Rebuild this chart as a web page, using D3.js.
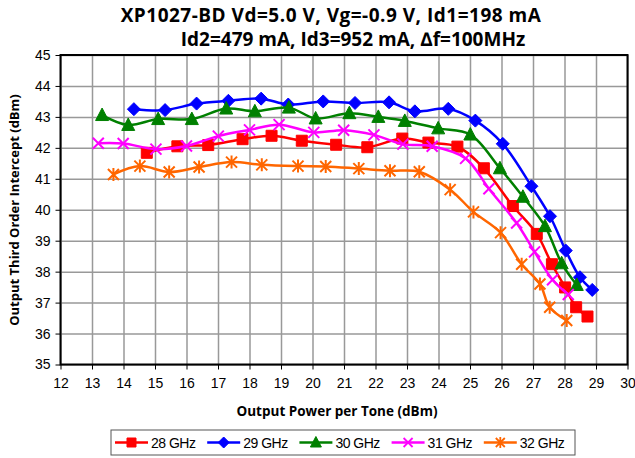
<!DOCTYPE html>
<html>
<head>
<meta charset="utf-8">
<script src="https://cdn.jsdelivr.net/npm/d3@7"></script>
<style>
  body { margin: 0; background: #fff; }
  svg { display: block; }
  .tick text { font-family: "Liberation Sans", Arial, sans-serif; font-size: 14px; fill: #000; }
</style>
</head>
<body>
<div id="chart"></div>
<script>
// chart data
var xTicks = [12, 13, 14, 15, 16, 17, 18, 19, 20, 21, 22, 23, 24, 25, 26, 27, 28, 29, 30];
var yTicks = [35, 36, 37, 38, 39, 40, 41, 42, 43, 44, 45];
var seriesNames = ['28 GHz', '29 GHz', '30 GHz', '31 GHz', '32 GHz'];

var pout28 = [14.74, 15.71, 16.69, 17.78, 18.7, 19.66, 20.75, 21.74, 22.85, 23.68, 24.6, 25.44, 26.36, 27.12, 27.6, 28.02, 28.37, 28.73];
var oip28  = [41.84, 42.05, 42.09, 42.28, 42.39, 42.23, 42.1, 42.02, 42.3, 42.17, 42.04, 41.34, 40.12, 39.22, 38.24, 37.49, 36.85, 36.55];

var pout29 = [14.33, 15.32, 16.32, 17.33, 18.37, 19.23, 20.34, 21.35, 22.43, 23.25, 24.31, 25.17, 26.04, 26.95, 27.54, 28.04, 28.49, 28.88];
var oip29  = [43.25, 43.22, 43.43, 43.52, 43.59, 43.4, 43.5, 43.45, 43.47, 43.18, 43.26, 42.88, 42.13, 40.76, 39.79, 38.68, 37.82, 37.41];

var pout30 = [13.32, 14.15, 15.1, 16.17, 17.26, 18.17, 19.25, 20.1, 21.17, 22.09, 22.93, 23.99, 25.01, 25.95, 26.68, 27.38, 27.91, 28.39];
var oip30  = [43.06, 42.74, 42.93, 42.93, 43.27, 43.18, 43.3, 42.95, 43.12, 43.0, 42.87, 42.63, 42.43, 41.34, 40.42, 39.47, 38.27, 37.57];

var pout31 = [13.2, 13.99, 15.03, 16.0, 17.01, 18.0, 18.94, 20.04, 20.99, 21.95, 22.87, 23.8, 24.86, 25.6, 26.48, 27.05, 27.62, 28.12];
var oip31  = [42.15, 42.14, 41.96, 42.06, 42.38, 42.58, 42.75, 42.5, 42.57, 42.42, 42.12, 42.05, 41.66, 40.68, 39.57, 38.64, 37.74, 37.26];

var pout32 = [13.68, 14.52, 15.45, 16.4, 17.43, 18.39, 19.54, 20.42, 21.47, 22.46, 23.39, 24.37, 25.11, 25.97, 26.64, 27.22, 27.53, 28.07];
var oip32  = [41.14, 41.41, 41.22, 41.38, 41.54, 41.45, 41.41, 41.4, 41.33, 41.26, 41.23, 40.65, 39.93, 39.26, 38.24, 37.6, 36.85, 36.42];

var WIDTH = 635, HEIGHT = 458;
var plot = {left: 60.5, right: 627.5, top: 55, bottom: 364.5};

var colors = ['#ff0000', '#0000ff', '#008000', '#ff00ff', '#ff6600'];
var shapes = ['square', 'diamond', 'triangle', 'x', 'star'];

var series = seriesNames.map(function(name, i) {
  var xs = [pout28, pout29, pout30, pout31, pout32][i];
  var ys = [oip28, oip29, oip30, oip31, oip32][i];
  return {
    name: name,
    color: colors[i],
    shape: shapes[i],
    points: xs.map(function(x, j) { return {x: x, y: ys[j]}; })
  };
});

var svg = d3.select('#chart').append('svg')
  .attr('width', WIDTH)
  .attr('height', HEIGHT);

var x = d3.scaleLinear().domain([12, 30]).range([plot.left, plot.right]);
var y = d3.scaleLinear().domain([35, 45]).range([plot.bottom, plot.top]);

// gridlines first so the frame sits on top
svg.append('g')
  .attr('transform', 'translate(0,' + plot.bottom + ')')
  .call(d3.axisBottom(x).tickValues(xTicks).tickSize(-(plot.bottom - plot.top)).tickFormat(''))
  .call(function(g) {
    g.select('.domain').remove();
    g.selectAll('line').attr('stroke', '#999').attr('stroke-width', 1.5);
  });
svg.append('g')
  .attr('transform', 'translate(' + plot.left + ',0)')
  .call(d3.axisLeft(y).tickValues(yTicks).tickSize(-(plot.right - plot.left)).tickFormat(''))
  .call(function(g) {
    g.select('.domain').remove();
    g.selectAll('line').attr('stroke', '#999').attr('stroke-width', 1.5);
  });

// frame
svg.append('rect')
  .attr('x', plot.left).attr('y', plot.top)
  .attr('width', plot.right - plot.left).attr('height', plot.bottom - plot.top)
  .attr('fill', 'none').attr('stroke', '#000').attr('stroke-width', 2);

// real axes with tick labels
var xAxis = svg.append('g')
  .attr('transform', 'translate(0,' + plot.bottom + ')')
  .call(d3.axisBottom(x).tickValues(xTicks).tickSize(5).tickPadding(9).tickFormat(d3.format('d')));
xAxis.select('.domain').remove();
xAxis.selectAll('line').attr('stroke', '#000').attr('stroke-width', 1);

var yAxis = svg.append('g')
  .attr('transform', 'translate(' + plot.left + ',0)')
  .call(d3.axisLeft(y).tickValues(yTicks).tickSize(5).tickPadding(5).tickFormat(d3.format('d')));
yAxis.select('.domain').remove();
yAxis.selectAll('line').attr('stroke', '#000').attr('stroke-width', 1);

// marker paths, centred on 0,0
function markerPath(shape, s) {
  var h = s / 2;
  if (shape === 'square') return 'M' + (-h) + ',' + (-h) + 'h' + s + 'v' + s + 'h' + (-s) + 'Z';
  if (shape === 'diamond') return 'M0,' + (-h - 1) + 'L' + (h + 1) + ',0L0,' + (h + 1) + 'L' + (-h - 1) + ',0Z';
  if (shape === 'triangle') return 'M0,' + (-h - 1.5) + 'L' + (h + 1) + ',' + (h) + 'L' + (-h - 1) + ',' + (h) + 'Z';
  if (shape === 'x') return 'M' + (-h) + ',' + (-h) + 'L' + h + ',' + h + 'M' + (-h) + ',' + h + 'L' + h + ',' + (-h);
  // asterisk: x plus vertical bar
  return 'M' + (-h) + ',' + (-h) + 'L' + h + ',' + h + 'M' + (-h) + ',' + h + 'L' + h + ',' + (-h) +
         'M0,' + (-h - 1) + 'L0,' + (h + 1);
}
function isStroked(shape) { return shape === 'x' || shape === 'star'; }

var line = d3.line()
  .x(function(d) { return x(d.x); })
  .y(function(d) { return y(d.y); })
  .curve(d3.curveCatmullRom.alpha(0.5));

var groups = svg.selectAll('g.series')
  .data(series)
  .enter()
  .append('g')
  .attr('class', 'series');

groups.append('path')
  .attr('d', function(d) { return line(d.points); })
  .attr('fill', 'none')
  .attr('stroke', function(d) { return d.color; })
  .attr('stroke-width', 2.5);

groups.each(function(s) {
  d3.select(this).selectAll('path.mark')
    .data(s.points)
    .enter()
    .append('path')
    .attr('class', 'mark')
    .attr('transform', function(d) { return 'translate(' + x(d.x) + ',' + y(d.y) + ')'; })
    .attr('d', markerPath(s.shape, 11))
    .attr('fill', isStroked(s.shape) ? 'none' : s.color)
    .attr('stroke', s.color)
    .attr('stroke-width', isStroked(s.shape) ? 2 : 1);
});

// titles
var title = svg.append('text')
  .attr('text-anchor', 'middle')
  .attr('font-family', '"Open Sans", sans-serif')
  .attr('font-weight', 'bold')
  .attr('font-size', 19)
  .attr('fill', '#000');
title.append('tspan').attr('x', 331).attr('y', 22).attr('letter-spacing', 0.5)
  .text('XP1027-BD Vd=5.0 V, Vg=-0.9 V, Id1=198 mA');
title.append('tspan').attr('x', 353).attr('y', 46)
  .text('Id2=479 mA, Id3=952 mA, \u2206f=100MHz');

svg.append('text')
  .attr('x', 337).attr('y', 416)
  .attr('text-anchor', 'middle')
  .attr('font-family', '"Open Sans", sans-serif')
  .attr('font-weight', 'bold')
  .attr('font-size', 13.5)
  .text('Output Power per Tone (dBm)');

svg.append('text')
  .attr('transform', 'translate(19,210) rotate(-90)')
  .attr('text-anchor', 'middle')
  .attr('font-family', '"Open Sans", sans-serif')
  .attr('font-weight', 'bold')
  .attr('font-size', 13)
  .text('Output Third Order Intercept (dBm)');

// legend
var legend = svg.append('g').attr('transform', 'translate(111,430)');
legend.append('rect')
  .attr('x', 0).attr('y', 0).attr('width', 464).attr('height', 25)
  .attr('fill', '#fff').attr('stroke', '#555').attr('stroke-width', 1);

var items = legend.selectAll('g.item')
  .data(series)
  .enter()
  .append('g')
  .attr('class', 'item')
  .attr('transform', function(d, i) { return 'translate(' + (4 + i * 92.2) + ',12.5)'; });

items.append('line')
  .attr('x1', 0).attr('x2', 33).attr('y1', 0).attr('y2', 0)
  .attr('stroke', function(d) { return d.color; })
  .attr('stroke-width', 2.5);
items.append('path')
  .attr('transform', 'translate(16.5,0)')
  .attr('d', function(d) { return markerPath(d.shape, 9); })
  .attr('fill', function(d) { return isStroked(d.shape) ? 'none' : d.color; })
  .attr('stroke', function(d) { return d.color; })
  .attr('stroke-width', function(d) { return isStroked(d.shape) ? 1.8 : 1; });
items.append('text')
  .attr('x', 36).attr('y', 5)
  .attr('font-family', '"Liberation Sans", Arial, sans-serif')
  .attr('font-size', 14)
  .attr('letter-spacing', -0.5)
  .text(function(d) { return d.name; });
</script>
</body>
</html>
